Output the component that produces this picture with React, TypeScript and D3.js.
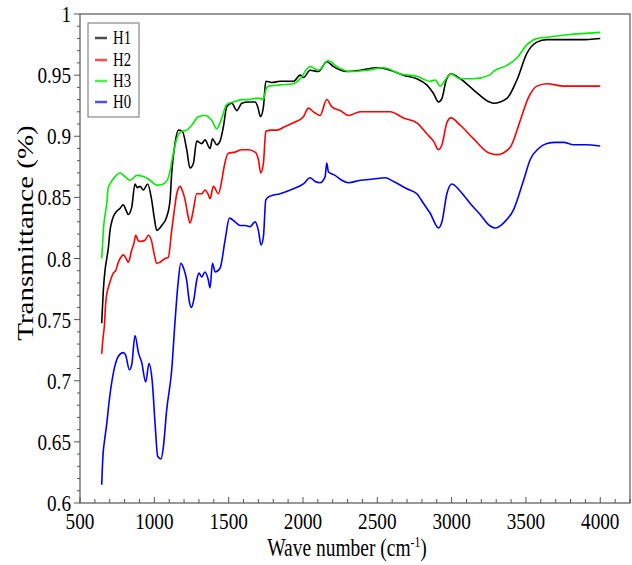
import React from "react";
import * as d3 from "d3";

const seriesNames = ["H1", "H2", "H3", "H0"];
const seriesColors = ["#000000", "#ff0000", "#00ee00", "#0000ff"];

const xTicks = [500, 1000, 1500, 2000, 2500, 3000, 3500, 4000];
const yTicks = [0.6, 0.65, 0.7, 0.75, 0.8, 0.85, 0.9, 0.95, 1];
const yTickLabels = ["0.6", "0.65", "0.7", "0.75", "0.8", "0.85", "0.9", "0.95", "1"];

const H1: [number, number][] = [[646,0.747],[652,0.762],[657,0.774],[668,0.790],[680,0.800],[690,0.808],[702,0.823],[718,0.832],[736,0.837],[769,0.841],[791,0.844],[808,0.840],[825,0.836],[848,0.842],[870,0.861],[885,0.858],[904,0.859],[926,0.856],[955,0.861],[982,0.848],[1000,0.833],[1016,0.823],[1050,0.827],[1083,0.834],[1106,0.848],[1117,0.870],[1139,0.894],[1162,0.905],[1189,0.904],[1218,0.889],[1240,0.874],[1263,0.878],[1285,0.896],[1319,0.894],[1341,0.897],[1375,0.890],[1391,0.898],[1420,0.893],[1442,0.896],[1465,0.908],[1487,0.924],[1521,0.927],[1555,0.921],[1588,0.927],[1633,0.928],[1678,0.928],[1696,0.924],[1714,0.916],[1734,0.924],[1750,0.945],[1790,0.944],[1846,0.945],[1936,0.945],[1981,0.950],[2003,0.948],[2048,0.954],[2104,0.953],[2160,0.961],[2205,0.957],[2295,0.953],[2385,0.954],[2497,0.956],[2587,0.954],[2676,0.950],[2766,0.947],[2833,0.942],[2878,0.935],[2912,0.928],[2935,0.931],[2964,0.946],[2995,0.951],[3058,0.947],[3147,0.938],[3255,0.928],[3282,0.927],[3372,0.931],[3439,0.946],[3507,0.968],[3574,0.977],[3641,0.979],[3753,0.979],[3866,0.979],[4000,0.980]];

const H2: [number, number][] = [[646,0.722],[655,0.735],[664,0.745],[672,0.762],[680,0.771],[690,0.776],[702,0.781],[724,0.788],[740,0.790],[758,0.797],[775,0.801],[791,0.803],[810,0.800],[825,0.797],[848,0.807],[862,0.812],[875,0.819],[890,0.815],[904,0.814],[937,0.815],[960,0.819],[982,0.814],[1000,0.803],[1016,0.796],[1038,0.797],[1072,0.800],[1094,0.801],[1117,0.823],[1135,0.840],[1151,0.853],[1173,0.859],[1190,0.855],[1207,0.848],[1225,0.836],[1240,0.829],[1263,0.840],[1285,0.853],[1319,0.853],[1341,0.856],[1360,0.853],[1375,0.849],[1397,0.859],[1431,0.853],[1454,0.864],[1465,0.872],[1498,0.886],[1543,0.887],[1588,0.889],[1633,0.889],[1678,0.887],[1700,0.881],[1716,0.870],[1734,0.878],[1750,0.904],[1790,0.905],[1824,0.905],[1880,0.908],[1936,0.911],[2003,0.916],[2037,0.923],[2070,0.920],[2115,0.917],[2160,0.930],[2194,0.924],[2250,0.921],[2306,0.917],[2385,0.920],[2497,0.920],[2587,0.920],[2676,0.915],[2766,0.911],[2833,0.902],[2878,0.896],[2912,0.889],[2935,0.893],[2968,0.911],[2995,0.915],[3058,0.909],[3147,0.898],[3255,0.886],[3305,0.885],[3394,0.891],[3462,0.913],[3518,0.932],[3574,0.941],[3641,0.943],[3753,0.941],[3866,0.941],[4000,0.941]];

const H3: [number, number][] = [[646,0.800],[652,0.812],[657,0.823],[668,0.835],[680,0.845],[690,0.858],[702,0.861],[736,0.867],[769,0.870],[803,0.867],[837,0.864],[860,0.866],[881,0.868],[926,0.867],[971,0.864],[1016,0.860],[1061,0.861],[1094,0.866],[1128,0.886],[1151,0.898],[1184,0.904],[1218,0.905],[1252,0.909],[1296,0.916],[1341,0.917],[1386,0.913],[1420,0.906],[1454,0.915],[1487,0.926],[1532,0.928],[1588,0.930],[1633,0.930],[1678,0.931],[1712,0.931],[1734,0.930],[1750,0.938],[1768,0.941],[1846,0.942],[1936,0.943],[1981,0.947],[2048,0.957],[2104,0.954],[2171,0.962],[2227,0.957],[2317,0.953],[2430,0.954],[2542,0.956],[2654,0.951],[2766,0.949],[2856,0.945],[2890,0.946],[2923,0.941],[2957,0.946],[2995,0.951],[3058,0.947],[3147,0.947],[3255,0.950],[3282,0.953],[3372,0.958],[3439,0.964],[3507,0.975],[3574,0.980],[3641,0.981],[3780,0.983],[4000,0.985]];

const H0: [number, number][] = [[646,0.615],[655,0.640],[664,0.650],[680,0.665],[695,0.682],[724,0.706],[758,0.720],[791,0.723],[807,0.721],[832,0.709],[848,0.713],[870,0.737],[893,0.723],[915,0.715],[942,0.699],[964,0.714],[987,0.698],[1005,0.665],[1023,0.638],[1045,0.636],[1061,0.646],[1083,0.676],[1117,0.709],[1139,0.748],[1160,0.780],[1178,0.796],[1200,0.791],[1218,0.782],[1235,0.765],[1250,0.760],[1265,0.766],[1285,0.782],[1300,0.788],[1319,0.785],[1341,0.789],[1362,0.783],[1375,0.776],[1391,0.796],[1409,0.789],[1442,0.792],[1476,0.815],[1505,0.833],[1543,0.830],[1577,0.827],[1611,0.827],[1644,0.826],[1678,0.830],[1700,0.823],[1718,0.811],[1734,0.818],[1750,0.848],[1779,0.851],[1846,0.853],[1936,0.857],[2003,0.861],[2048,0.866],[2082,0.863],[2115,0.862],[2149,0.867],[2160,0.878],[2171,0.871],[2216,0.868],[2261,0.864],[2306,0.862],[2385,0.864],[2474,0.865],[2553,0.866],[2609,0.863],[2699,0.857],[2766,0.853],[2811,0.845],[2856,0.837],[2912,0.825],[2935,0.830],[2968,0.853],[3002,0.861],[3058,0.855],[3125,0.845],[3192,0.836],[3255,0.827],[3293,0.825],[3349,0.829],[3417,0.840],[3484,0.864],[3529,0.881],[3585,0.890],[3641,0.894],[3700,0.895],[3753,0.895],[3820,0.893],[3900,0.893],[4000,0.892]];

const seriesData = [H1, H2, H3, H0];

const FONT = "'Liberation Serif', 'Times New Roman', serif";

function SText(props: {
  x: number; y: number; fs: number; sx: number; anchor?: string; rotate?: boolean; children: any;
}) {
  const { x, y, fs, sx, anchor = "start", rotate = false, children } = props;
  return (
    <text
      transform={`translate(${x},${y}) scale(${sx},1)${rotate ? " rotate(-90)" : ""}`}
      fontSize={fs}
      fontFamily={FONT}
      textAnchor={anchor}
      fill="#000"
    >
      {children}
    </text>
  );
}

export default function App() {
  const W = 632, H = 565;
  const left = 80, right = 630, top = 14, bottom = 503;
  const x = d3.scaleLinear().domain([500, 4200]).range([left, right]);
  const y = d3.scaleLinear().domain([0.6, 1]).range([bottom, top]);
  const line = d3
    .line<[number, number]>()
    .x((d) => x(d[0]))
    .y((d) => y(d[1]))
    .curve(d3.curveMonotoneX);

  const xMinor = d3.range(500, 4201, 100);
  const yMinor = d3.range(0, 41).map((i) => 0.6 + i * 0.01);

  const legendX = 88, legendY = 23;
  const entryY = [38, 60, 81, 102];

  return (
    <svg
      width={W}
      height={H}
      viewBox={`0 0 ${W} ${H}`}
      style={{ position: "absolute", left: 0, top: 0, background: "#fff" }}
    >
      <rect x={0} y={0} width={W} height={H} fill="#fff" />
      {/* series */}
      <g fill="none" strokeWidth={1.6} strokeLinejoin="round">
        {seriesData.map((s, i) => (
          <path key={i} d={line(s) || ""} stroke={seriesColors[i]} />
        ))}
      </g>
      {/* frame */}
      <rect
        x={left}
        y={top}
        width={right - left}
        height={bottom - top}
        fill="none"
        stroke="#555"
        strokeWidth={1.2}
      />
      {/* x ticks (inward) */}
      <g stroke="#555" strokeWidth={1}>
        {xMinor.map((v) => {
          const major = v % 500 === 0;
          return (
            <line key={v} x1={x(v)} x2={x(v)} y1={bottom} y2={bottom - (major ? 6 : 4)} />
          );
        })}
        {yMinor.map((v, i) => {
          const major = i % 5 === 0;
          return (
            <line key={i} x1={left} x2={left - (major ? 6 : 3)} y1={y(v)} y2={y(v)} />
          );
        })}
      </g>
      {xTicks.map((v) => (
        <SText key={v} x={x(v)} y={529} fs={24} sx={0.8} anchor="middle">
          {String(v)}
        </SText>
      ))}
      {yTicks.map((v, i) => (
        <SText key={v} x={71} y={y(v) + 8} fs={24} sx={0.8} anchor="end">
          {yTickLabels[i]}
        </SText>
      ))}
      {/* axis titles */}
      <SText x={347} y={556} fs={25} sx={0.78} anchor="middle">
        Wave number (cm
        <tspan dy={-9} fontSize={15}>-1</tspan>
        <tspan dy={9}>)</tspan>
      </SText>
      <SText x={33} y={233} fs={29} sx={0.77} anchor="middle" rotate>
        Transmittance (%)
      </SText>
      {/* legend */}
      <rect
        x={legendX}
        y={legendY}
        width={51}
        height={94}
        fill="#fff"
        stroke="#888"
        strokeWidth={1.2}
      />
      {seriesNames.map((n, i) => (
        <g key={n}>
          <line
            x1={95}
            x2={107}
            y1={entryY[i]}
            y2={entryY[i]}
            stroke={seriesColors[i]}
            strokeOpacity={0.7}
            strokeWidth={2.5}
          />
          <SText x={113} y={entryY[i] + 6} fs={18} sx={0.82}>
            {n}
          </SText>
        </g>
      ))}
    </svg>
  );
}
